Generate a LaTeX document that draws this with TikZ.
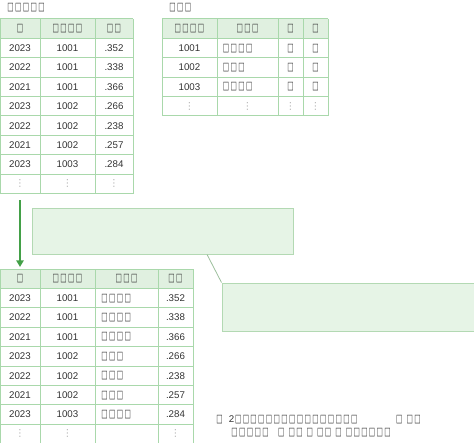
\documentclass[tikz,border=0pt]{standalone}
\usepackage{fontspec}
\setmainfont{Liberation Sans}
\newfontfamily\symf{DejaVu Sans}
\usetikzlibrary{arrows.meta,calc}
\definecolor{gline}{HTML}{A9D8AB}
\definecolor{ghead}{HTML}{E0F0E0}
\definecolor{gbox}{HTML}{E6F4E6}
\definecolor{gboxline}{HTML}{B3D9B3}
\definecolor{garrow}{HTML}{43A047}
\definecolor{gconn}{HTML}{9CBF9C}
\definecolor{txt}{HTML}{333333}
\definecolor{dotc}{HTML}{B0B0B0}
\newcommand\q{\makebox[5.8pt][c]{\scalebox{0.6}[1]{\symf\bfseries\fontsize{8.4}{8}\selectfont\char"25A1}}}
\newcommand\vd{{\symf\color{dotc}\char"22EE}}
\begin{document}
\begin{tikzpicture}[x=0.75pt,y=-0.75pt,
  font=\fontsize{7.3}{8}\selectfont, text=txt,
  tline/.style={draw=gline, line width=0.75pt},
  cell/.style={inner sep=0pt, anchor=center},
  lcell/.style={inner sep=0pt, anchor=west},
  callout/.style={draw=gboxline, fill=gbox, line width=0.75pt, inner sep=0pt},
  arrowline/.style={draw=garrow, line width=1.6pt, -{Triangle[length=5pt,width=5.5pt]}},
  conn/.style={draw=gconn, line width=0.6pt}]
\useasboundingbox (0,0) rectangle (474,442);

% ---------- titles
\node[lcell] (t1) at (6.5,8) {\q\q\q\q\q};
\node[lcell] (t2) at (168.5,8) {\q\q\q};

% ---------- left table
\fill[ghead] (0,19) rectangle (133,38.4);
\foreach \i in {0,...,9} \draw[tline] (0,{19+19.4*\i}) -- (133,{19+19.4*\i});
\foreach \x in {0,40,95,133} \draw[tline] (\x,19) -- (\x,193.6);
\node[cell] (LH1) at (20,28.7) {\q};
\node[cell] (LH2) at (67.5,28.7) {\q\q\q\q};
\node[cell] (LH3) at (114,28.7) {\q\q};
\foreach \i/\a/\b/\c in {1/2023/1001/.352,2/2022/1001/.338,3/2021/1001/.366,4/2023/1002/.266,5/2022/1002/.238,6/2021/1002/.257,7/2023/1003/.284}{
  \node[cell] (L\i a) at (20,{19+19.4*\i+9.7}) {\a};
  \node[cell] (L\i b) at (67.5,{19+19.4*\i+9.7}) {\b};
  \node[cell] (L\i c) at (114,{19+19.4*\i+9.7}) {\c};
}
\node[cell] (L8a) at (20,{19+19.4*8+9.7}) {\vd};
\node[cell] (L8b) at (67.5,{19+19.4*8+9.7}) {\vd};
\node[cell] (L8c) at (114,{19+19.4*8+9.7}) {\vd};

% ---------- right table
\fill[ghead] (162,19) rectangle (328,38.4);
\foreach \i in {0,...,5} \draw[tline] (162,{19+19.4*\i}) -- (328,{19+19.4*\i});
\foreach \x in {162,217,278,303,328} \draw[tline] (\x,19) -- (\x,116);
\node[cell] (RH1) at (189.5,28.7) {\q\q\q\q};
\node[cell] (RH2) at (247.5,28.7) {\q\q\q};
\node[cell] (RH3) at (290.5,28.7) {\q};
\node[cell] (RH4) at (315.5,28.7) {\q};
\foreach \i/\a/\b in {1/1001/\q\q\q\q,2/1002/\q\q\q,3/1003/\q\q\q\q}{
  \node[cell] (R\i a) at (189.5,{19+19.4*\i+9.7}) {\a};
  \node[lcell] (R\i b) at (222,{19+19.4*\i+9.7}) {\b};
  \node[cell] (R\i c) at (290.5,{19+19.4*\i+9.7}) {\q};
  \node[cell] (R\i d) at (315.5,{19+19.4*\i+9.7}) {\q};
}
\node[cell] (R4a) at (189.5,{19+19.4*4+9.7}) {\vd};
\node[cell] (R4b) at (247.5,{19+19.4*4+9.7}) {\vd};
\node[cell] (R4c) at (290.5,{19+19.4*4+9.7}) {\vd};
\node[cell] (R4d) at (315.5,{19+19.4*4+9.7}) {\vd};

% ---------- bottom table
\fill[ghead] (0,269) rectangle (193,288.4);
\foreach \i in {0,...,9} \draw[tline] (0,{269+19.4*\i}) -- (193,{269+19.4*\i});
\foreach \x in {0,40,95,158,193} \draw[tline] (\x,269) -- (\x,444);
\node[cell] (BH1) at (20,278.7) {\q};
\node[cell] (BH2) at (67.5,278.7) {\q\q\q\q};
\node[cell] (BH3) at (126.5,278.7) {\q\q\q};
\node[cell] (BH4) at (175.5,278.7) {\q\q};
\foreach \i/\a/\b/\n/\c in {1/2023/1001/\q\q\q\q/.352,2/2022/1001/\q\q\q\q/.338,3/2021/1001/\q\q\q\q/.366,4/2023/1002/\q\q\q/.266,5/2022/1002/\q\q\q/.238,6/2021/1002/\q\q\q/.257,7/2023/1003/\q\q\q\q/.284}{
  \node[cell] (B\i a) at (20,{269+19.4*\i+9.7}) {\a};
  \node[cell] (B\i b) at (67.5,{269+19.4*\i+9.7}) {\b};
  \node[lcell] (B\i n) at (100.5,{269+19.4*\i+9.7}) {\n};
  \node[cell] (B\i c) at (175.5,{269+19.4*\i+9.7}) {\c};
}
\node[cell] (B8a) at (20,{269+19.4*8+9.7}) {\vd};
\node[cell] (B8b) at (67.5,{269+19.4*8+9.7}) {\vd};
\node[cell] (B8c) at (175.5,{269+19.4*8+9.7}) {\vd};

% ---------- arrow
\coordinate (a0) at (20,200);
\coordinate (a1) at (20,267);
\draw[arrowline] (a0) -- (a1);

% ---------- callouts
\node[callout, minimum width=195.75pt, minimum height=34.5pt] (c1) at (162.5,231) {};
\node[callout, minimum width=190.5pt, minimum height=36pt] (c2) at (349,307) {};
\draw[conn] ($(c1.south west)!0.67!(c1.south east)$) -- (c2.north west);

% ---------- note
\node[lcell] (n1) at (215.5,420) {\q\ \ 2\q\q\q\q\q\q\q\q\q\q\q\q\q\q\q\q\hspace{28pt}\q\ \q\q};
\node[lcell] (n2) at (230.5,432.5) {\q\q\q\q\q\hspace{6pt}\q\ \q\q\ \q\ \q\q\ \q\ \q\q\q\q\q\q};
\end{tikzpicture}
\end{document}
